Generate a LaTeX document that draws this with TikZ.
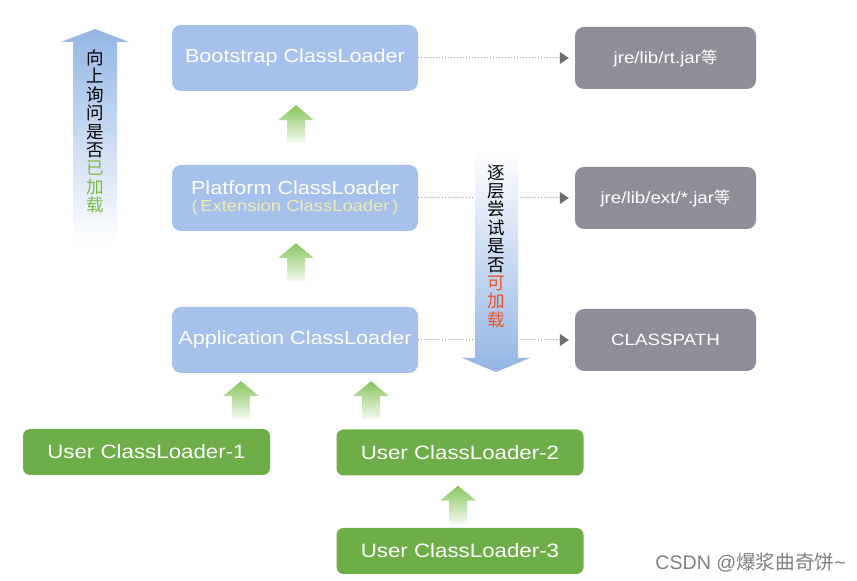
\documentclass[tikz,border=0pt]{standalone}
\usepackage{fontspec}
\setmainfont[FakeStretch=1.15]{Liberation Sans}
\newfontfamily\wmfont{Liberation Sans}
\newfontfamily\cjk{Noto Sans CJK SC}
\usetikzlibrary{arrows.meta}
\definecolor{boxblue}{HTML}{A6C1EB}
\definecolor{boxgray}{HTML}{8E8E98}
\definecolor{boxgreen}{HTML}{6DAE48}
\definecolor{arrgreen}{HTML}{86C55C}
\definecolor{arrblue}{HTML}{93B5E4}
\definecolor{exttext}{HTML}{F0ECB0}
\definecolor{loadgreen}{HTML}{7DBB45}
\definecolor{loadred}{HTML}{E8542A}
\definecolor{linegray}{HTML}{9A9A9A}
\definecolor{tipgray}{HTML}{6E6E6E}
\begin{document}
\begin{tikzpicture}[x=1pt,y=1pt,
  bluebox/.style={fill=boxblue, rounded corners=9pt, minimum width=246pt, minimum height=66pt, inner sep=0pt, text=white, font=\fontsize{18.8}{21}\selectfont, align=center},
  graybox/.style={fill=boxgray, rounded corners=9pt, minimum width=181pt, minimum height=62pt, inner sep=0pt, text=white, font=\fontsize{16.3}{19}\selectfont},
  greenbox/.style={fill=boxgreen, rounded corners=7pt, minimum width=247pt, minimum height=46pt, inner sep=0pt, text=white, font=\fontsize{19.4}{22}\selectfont},
  dotline/.style={draw=linegray, dotted, line width=1pt, shorten >=6pt, -{Triangle[length=9pt,width=12pt,color=tipgray,fill=tipgray]}},
  greenup/.pic={\shade[top color=arrgreen, bottom color=arrgreen!8] (0,0) -- (18,-15) -- (9,-15) -- (9,-38) -- (-9,-38) -- (-9,-15) -- (-18,-15) -- cycle;},
  vtext/.style={font=\cjk\fontsize{17.5}{18.4}\selectfont, align=center, inner sep=0pt}
]
\useasboundingbox (0,0) rectangle (857,581);
\fill[white] (0,0) rectangle (857,581);

% blue loader boxes
\node[bluebox] (boot) at (295,523) {Bootstrap ClassLoader};
\node[bluebox] (plat) at (295,383) {Platform ClassLoader\\[-4pt]{\color{exttext}\fontsize{16}{18}\selectfont (\,Extension ClassLoader\,)}};
\node[bluebox] (app) at (295,241) {Application ClassLoader};

% gray path boxes
\node[graybox] (rt) at (665.5,523) {jre/lib/rt.jar{\cjk 等}};
\node[graybox] (ext) at (665.5,383) {jre/lib/ext/*.jar{\cjk 等}};
\node[graybox] (cp) at (665.5,241) {CLASSPATH};

% green user boxes
\node[greenbox] (u1) at (146.5,129) {User ClassLoader-1};
\node[greenbox] (u2) at (460,128.5) {User ClassLoader-2};
\node[greenbox] (u3) at (460,30) {User ClassLoader-3};

% dotted connectors
\draw[dotline] (boot.east) -- (rt.west);
\draw[dotline] (plat.east) -- (ext.west);
\draw[dotline] (app.east) -- (cp.west);

% green fat arrows
\pic at ([xshift=1pt,yshift=-14pt]boot.south) {greenup};
\pic at ([xshift=1pt,yshift=-12pt]plat.south) {greenup};
\pic at ([xshift=-54pt,yshift=-8pt]app.south) {greenup};
\pic at ([xshift=76pt,yshift=-8pt]app.south) {greenup};
\pic at ([xshift=-2pt,yshift=-10pt]u2.south) {greenup};

% left big arrow (upwards)
\shade[top color=arrblue, bottom color=white] (95,552) -- (129,539) -- (117,539) -- (117,338) -- (73,338) -- (73,539) -- (61,539) -- cycle;
\node[vtext] (askup) at (95,449.5) {向\\上\\询\\问\\是\\否\\{\color{loadgreen}已}\\{\color{loadgreen}加}\\{\color{loadgreen}载}};

% right big arrow (downwards)
\shade[top color=white, bottom color=arrblue] (475,432) -- (518,432) -- (518,223) -- (530,223) -- (496,209) -- (462,223) -- (475,223) -- cycle;
\node[vtext] (trydown) at (496,334.5) {逐\\层\\尝\\试\\是\\否\\{\color{loadred}可}\\{\color{loadred}加}\\{\color{loadred}载}};

% watermark
\node[anchor=east, text=gray, font=\wmfont\fontsize{19.6}{22}\selectfont, inner sep=0pt] (wm) at (846,18) {CSDN @{\cjk 爆浆曲奇饼}\textasciitilde};
\end{tikzpicture}
\end{document}
